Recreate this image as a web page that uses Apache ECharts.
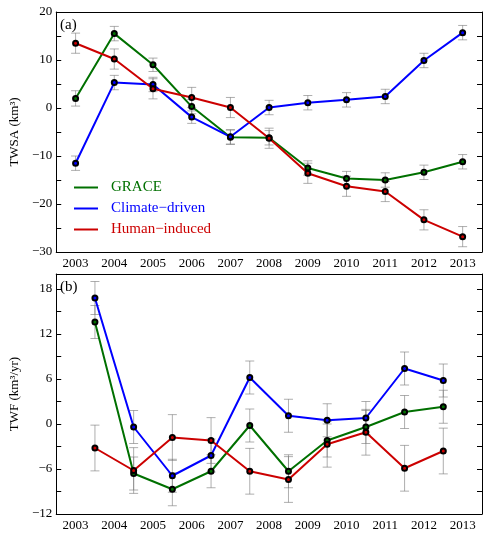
<!DOCTYPE html>
<html>
<head>
<meta charset="UTF-8">
<title></title>
<script type="text/javascript" src="https://cdn.jsdelivr.net/npm/echarts@6/dist/echarts.min.js"></script>
<style>
    html, body { margin: 0; padding: 0; background: #fff; }
</style>
</head>
<body>
<div id="main" style="width: 491px; height: 535px;"></div>
<script type="text/javascript">
    // category labels and x positions
    var years = ['2003', '2004', '2005', '2006', '2007', '2008', '2009', '2010', '2011', '2012', '2013'];
    var twsaX = [2003, 2004, 2005, 2006, 2007, 2008, 2009, 2010, 2011, 2012, 2013];
    var twfX = [2003.5, 2004.5, 2005.5, 2006.5, 2007.5, 2008.5, 2009.5, 2010.5, 2011.5, 2012.5];

    // (a) TWSA, km3
    var twsaGrace   = [2.0, 15.5, 9.0, 0.3, -6.1, -6.2, -12.5, -14.7, -15.0, -13.4, -11.2];
    var twsaClimate = [-11.5, 5.3, 4.9, -1.9, -6.0, 0.1, 1.1, 1.7, 2.4, 9.9, 15.7];
    var twsaHuman   = [13.5, 10.2, 4.0, 2.2, 0.1, -6.3, -13.6, -16.3, -17.4, -23.3, -26.8];
    var twsaGraceErr   = [1.6, 1.5, 1.4, 1.5, 1.5, 1.5, 1.5, 1.5, 1.5, 1.5, 1.5];
    var twsaClimateErr = [1.5, 1.5, 1.5, 1.3, 1.5, 1.5, 1.5, 1.5, 1.5, 1.5, 1.5];
    var twsaHumanErr   = [2.1, 2.1, 2.1, 2.1, 2.1, 2.1, 2.1, 2.1, 2.1, 2.1, 2.1];

    // (b) TWF, km3/yr
    var twfGrace   = [13.6, -6.6, -8.7, -6.3, -0.2, -6.3, -2.2, -0.4, 1.6, 2.3];
    var twfClimate = [16.8, -0.4, -6.9, -4.2, 6.2, 1.1, 0.5, 0.8, 7.4, 5.8];
    var twfHuman   = [-3.2, -6.2, -1.8, -2.2, -6.3, -7.4, -2.7, -1.1, -5.9, -3.6];
    var twfGraceErr   = [2.2, 2.2, 2.2, 2.2, 2.2, 2.2, 2.2, 2.2, 2.2, 2.2];
    var twfClimateErr = [2.2, 2.2, 2.2, 2.2, 2.2, 2.2, 2.2, 2.2, 2.2, 2.2];
    var twfHumanErr   = [3.05, 3.05, 3.05, 3.05, 3.05, 3.05, 3.05, 3.05, 3.05, 3.05];

    var names = ['GRACE', 'Climate\u2212driven', 'Human\u2212induced'];
    var colors = ['#007000', '#0000ff', '#cc0000'];
    var serif = 'Liberation Serif';

    var myChart = echarts.init(document.getElementById('main'));

    function pairs(xs, ys) {
        return xs.map(function (x, i) { return [x, ys[i]]; });
    }
    function triples(xs, ys, es) {
        return xs.map(function (x, i) { return [x, ys[i], es[i]]; });
    }

    function errRender(params, api) {
        var x = api.value(0), y = api.value(1), e = api.value(2);
        var top = api.coord([x, y + e]);
        var bot = api.coord([x, y - e]);
        var hw = 4.5;
        var st = { stroke: 'rgba(120,120,120,0.6)', lineWidth: 1 };
        return {
            type: 'group',
            children: [
                { type: 'line', shape: { x1: top[0], y1: top[1], x2: bot[0], y2: bot[1] }, style: st },
                { type: 'line', shape: { x1: top[0] - hw, y1: top[1], x2: top[0] + hw, y2: top[1] }, style: st },
                { type: 'line', shape: { x1: bot[0] - hw, y1: bot[1], x2: bot[0] + hw, y2: bot[1] }, style: st }
            ]
        };
    }

    var fmtMinus = function (step) {
        return function (v) {
            if (Math.abs(v % step) > 1e-9) return '';
            return String(v).replace('-', '\u2212');
        };
    };

    function catAxes(grid) {
        return [{
            type: 'category', gridIndex: grid, data: years, position: 'bottom',
            boundaryGap: true,
            axisLine: { onZero: false, lineStyle: { color: '#000', width: 1 } },
            axisTick: { inside: true, length: 5, lineStyle: { color: '#000' } },
            axisLabel: { color: '#000', fontFamily: serif, fontSize: 13, margin: 5, interval: 0 }
        }, {
            type: 'category', gridIndex: grid, data: years, position: 'top',
            boundaryGap: true,
            axisLine: { onZero: false, lineStyle: { color: '#000', width: 1 } },
            axisTick: { inside: true, length: 5, lineStyle: { color: '#000' } },
            axisLabel: { show: false }
        }, {
            type: 'value', gridIndex: grid, min: 2002.5, max: 2013.5, show: false
        }];
    }

    function valAxes(grid, min, max, interval, step, name) {
        return [{
            type: 'value', gridIndex: grid, position: 'left', min: min, max: max, interval: interval,
            name: name, nameLocation: 'middle', nameGap: 25, nameRotate: 90,
            nameTextStyle: { color: '#000', fontFamily: serif, fontSize: 13 },
            splitLine: { show: false },
            axisLine: { show: true, onZero: false, lineStyle: { color: '#000', width: 1 } },
            axisTick: { show: true, inside: true, length: 5, lineStyle: { color: '#000' } },
            axisLabel: { color: '#000', fontFamily: serif, fontSize: 13, margin: 4, formatter: fmtMinus(step) }
        }, {
            type: 'value', gridIndex: grid, position: 'right', min: min, max: max, interval: interval,
            splitLine: { show: false },
            axisLine: { show: true, onZero: false, lineStyle: { color: '#000', width: 1 } },
            axisTick: { show: true, inside: true, length: 5, lineStyle: { color: '#000' } },
            axisLabel: { show: false }
        }];
    }

    function lineSeries(idx, xIdx, yIdx, data, showName) {
        return {
            name: showName ? names[idx] : names[idx] + ' b',
            type: 'line', xAxisIndex: xIdx, yAxisIndex: yIdx,
            data: data, z: 3,
            symbol: 'circle', symbolSize: 5,
            lineStyle: { color: colors[idx], width: 2 },
            itemStyle: { color: colors[idx], borderColor: '#000', borderWidth: 2 },
            emphasis: { disabled: true },
            animation: false
        };
    }

    function errSeries(xIdx, yIdx, data) {
        return {
            type: 'custom', xAxisIndex: xIdx, yAxisIndex: yIdx,
            renderItem: errRender, data: data, z: 1,
            encode: { x: 0, y: 1 }, animation: false, silent: true
        };
    }

    var option = {
        animation: false,
        grid: [
            { left: 50, right: 9, top: 12, height: 240 },
            { left: 50, right: 9, top: 274, height: 240 }
        ],
        title: [
            { text: '(a)', left: 55, top: 13, textStyle: { fontFamily: serif, fontSize: 15, fontWeight: 'normal', color: '#000' } },
            { text: '(b)', left: 55, top: 275, textStyle: { fontFamily: serif, fontSize: 15, fontWeight: 'normal', color: '#000' } }
        ],
        legend: {
            orient: 'vertical', left: 69, top: 175,
            icon: 'rect', itemWidth: 24, itemHeight: 2, itemGap: 6,
            itemStyle: { borderWidth: 0 },
            selectedMode: false,
            textStyle: { fontFamily: serif, fontSize: 15, padding: [0, 0, 0, 8] },
            data: names.map(function (n, i) {
                return { name: n, textStyle: { color: colors[i] }, itemStyle: { color: colors[i], borderWidth: 0 } };
            })
        },
        xAxis: catAxes(0).concat(catAxes(1)),
        yAxis: valAxes(0, -30, 20, 5, 10, 'TWSA (km\u00b3)').concat(valAxes(1, -12, 20, 3, 6, 'TWF (km\u00b3/yr)')),
        series: [
            errSeries(2, 0, triples(twsaX, twsaGrace, twsaGraceErr)),
            errSeries(2, 0, triples(twsaX, twsaClimate, twsaClimateErr)),
            errSeries(2, 0, triples(twsaX, twsaHuman, twsaHumanErr)),
            errSeries(5, 2, triples(twfX, twfGrace, twfGraceErr)),
            errSeries(5, 2, triples(twfX, twfClimate, twfClimateErr)),
            errSeries(5, 2, triples(twfX, twfHuman, twfHumanErr)),
            lineSeries(0, 2, 0, pairs(twsaX, twsaGrace), true),
            lineSeries(1, 2, 0, pairs(twsaX, twsaClimate), true),
            lineSeries(2, 2, 0, pairs(twsaX, twsaHuman), true),
            lineSeries(0, 5, 2, pairs(twfX, twfGrace), false),
            lineSeries(1, 5, 2, pairs(twfX, twfClimate), false),
            lineSeries(2, 5, 2, pairs(twfX, twfHuman), false)
        ]
    };

    myChart.setOption(option);
</script>
</body>
</html>
